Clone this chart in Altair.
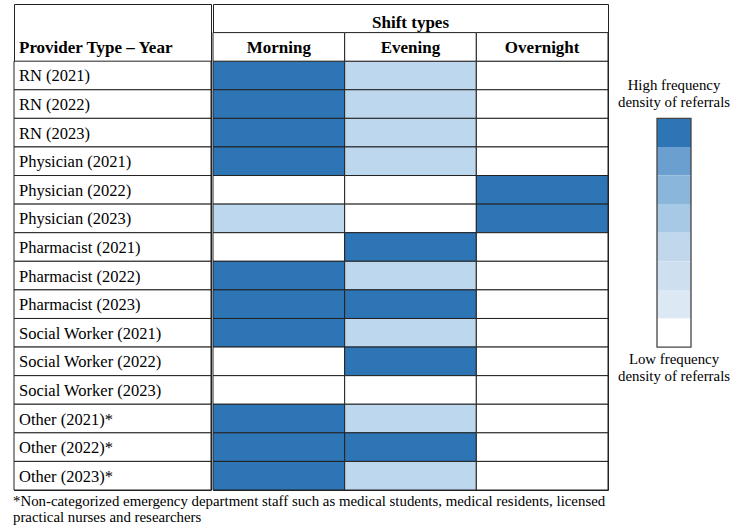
import altair as alt
import pandas as pd

# ---------------- data ----------------
providers = [
    "RN (2021)", "RN (2022)", "RN (2023)",
    "Physician (2021)", "Physician (2022)", "Physician (2023)",
    "Pharmacist (2021)", "Pharmacist (2022)", "Pharmacist (2023)",
    "Social Worker (2021)", "Social Worker (2022)", "Social Worker (2023)",
    "Other (2021)*", "Other (2022)*", "Other (2023)*",
]
shifts = ["Morning", "Evening", "Overnight"]
# 0 = none, 1 = low/medium, 2 = high referral density
morning = [2, 2, 2, 2, 0, 1, 0, 2, 2, 2, 0, 0, 2, 2, 2]
evening = [1, 1, 1, 1, 0, 0, 2, 1, 2, 1, 2, 0, 1, 2, 1]
overnight = [0, 0, 0, 0, 2, 2, 0, 0, 0, 0, 0, 0, 0, 0, 0]

cell_levels = [0, 1, 2]
cell_colors = ["#FFFFFF", "#BDD7EE", "#2E75B6"]

legend_levels = [0, 1, 2, 3, 4, 5, 6, 7]
legend_colors = ["#2E75B6", "#6B9FCF", "#8BB6DC", "#A8C9E6",
                 "#C0D7EC", "#CEE0F0", "#DCE8F4", "#FFFFFF"]

left_header = "Provider Type \u2013 Year"
group_header = "Shift types"
legend_high = ["High frequency", "density of referrals"]
legend_low = ["Low frequency", "density of referrals"]
footnote = [
    "*Non-categorized emergency department staff such as medical students, medical residents, licensed",
    "practical nurses and researchers",
]

# ---------------- layout ----------------
FONT = "Liberation Serif"
TABLE_H = 486
LEFT_W = 197
RIGHT_W = 395
LEG_W = 102
LINE = "#222222"
BOLD_SIZE = 17
REG_SIZE = 16.5
SMALL_SIZE = 14.85

y_domain = ["title_row", "header_row"] + providers
yscale = alt.Scale(domain=y_domain, paddingInner=0, paddingOuter=0)
xscale = alt.Scale(domain=shifts, paddingInner=0, paddingOuter=0)

# ---------------- left column ----------------
rows_df = pd.DataFrame({"row": providers})
lh_df = pd.DataFrame({"row": ["header_row"], "label": [left_header]})

left = alt.layer(
    alt.Chart(rows_df).mark_rect(fill="white", stroke=LINE, strokeWidth=1).encode(
        y=alt.Y("row:N", scale=yscale, axis=None)
    ),
    alt.Chart(rows_df).mark_text(font=FONT, fontSize=REG_SIZE, align="left", color="black", dy=1).encode(
        y=alt.Y("row:N", scale=yscale, axis=None), x=alt.value(5), text="row:N"
    ),
    alt.Chart(lh_df).mark_text(font=FONT, fontSize=BOLD_SIZE, fontWeight="bold", align="left", color="black", dy=1).encode(
        y=alt.Y("row:N", scale=yscale, axis=None), x=alt.value(5), text="label:N"
    ),
).properties(width=LEFT_W, height=TABLE_H, view=alt.ViewBackground(stroke=LINE, strokeWidth=1))

# ---------------- shift grid ----------------
recs = []
for i, p in enumerate(providers):
    for s, vals in zip(shifts, [morning, evening, overnight]):
        recs.append({"row": p, "shift": s, "level": vals[i]})
for s in shifts:
    recs.append({"row": "header_row", "shift": s, "level": 0})
cells_df = pd.DataFrame(recs)
hdr_df = pd.DataFrame({"row": ["header_row"] * 3, "shift": shifts})
grp_df = pd.DataFrame({"row": ["title_row"], "label": [group_header]})

right = alt.layer(
    alt.Chart(cells_df).mark_rect(stroke=LINE, strokeWidth=1).encode(
        y=alt.Y("row:N", scale=yscale, axis=None),
        x=alt.X("shift:N", scale=xscale, axis=None),
        color=alt.Color("level:O", scale=alt.Scale(domain=cell_levels, range=cell_colors), legend=None),
    ),
    alt.Chart(hdr_df).mark_text(font=FONT, fontSize=BOLD_SIZE, fontWeight="bold", color="black", dy=1).encode(
        y=alt.Y("row:N", scale=yscale, axis=None),
        x=alt.X("shift:N", scale=xscale, axis=None),
        text="shift:N",
    ),
    alt.Chart(grp_df).mark_text(font=FONT, fontSize=BOLD_SIZE, fontWeight="bold", color="black", dy=5).encode(
        y=alt.Y("row:N", scale=yscale, axis=None),
        x=alt.value(RIGHT_W / 2),
        text="label:N",
    ),
).properties(width=RIGHT_W, height=TABLE_H, view=alt.ViewBackground(stroke=LINE, strokeWidth=1))

# ---------------- legend (steps on a row-unit scale aligned with the table) ----------------
n_leg = len(legend_levels)
leg_df = pd.DataFrame({
    "lvl": legend_levels,
    "y0": legend_levels,
    "y1": [v + 1 for v in legend_levels],
    "col": ["swatch"] * n_leg,
})
leg_y = alt.Scale(domain=[-4, 13], reverse=True, nice=False, zero=False)
leg_x = alt.Scale(domain=["swatch"], paddingInner=0, paddingOuter=1)

hi_df = pd.DataFrame({"y": [0], "col": ["swatch"]})
lo_df = pd.DataFrame({"y": [n_leg], "col": ["swatch"]})
box_df = pd.DataFrame({"y0": [0], "y1": [n_leg], "col": ["swatch"]})

bands = alt.Chart(leg_df).mark_rect().encode(
    y=alt.Y("y0:Q", scale=leg_y, axis=None),
    y2="y1:Q",
    x=alt.X("col:N", scale=leg_x, axis=None),
    color=alt.Color("lvl:O", scale=alt.Scale(domain=legend_levels, range=legend_colors), legend=None),
)
hi_txt = alt.Chart(hi_df).mark_text(
    font=FONT, fontSize=SMALL_SIZE, color="black", baseline="top", lineHeight=17, dy=-40, text=legend_high
).encode(
    y=alt.Y("y:Q", scale=leg_y, axis=None),
    x=alt.X("col:N", scale=leg_x, axis=None),
)
lo_txt = alt.Chart(lo_df).mark_text(
    font=FONT, fontSize=SMALL_SIZE, color="black", baseline="top", lineHeight=17, dy=5, text=legend_low
).encode(
    y=alt.Y("y:Q", scale=leg_y, axis=None),
    x=alt.X("col:N", scale=leg_x, axis=None),
)
box = alt.Chart(box_df).mark_rect(fillOpacity=0, stroke="#444444", strokeWidth=1.3).encode(
    y=alt.Y("y0:Q", scale=leg_y, axis=None),
    y2="y1:Q",
    x=alt.X("col:N", scale=leg_x, axis=None),
)
legend = alt.layer(bands, hi_txt, lo_txt, box).properties(width=LEG_W, height=TABLE_H)

table = alt.hconcat(left, right, spacing=0)
chart = alt.hconcat(table, legend, spacing=8).resolve_scale(color="independent").properties(
    title=alt.TitleParams(
        text=footnote, orient="bottom", anchor="start", font=FONT, fontSize=SMALL_SIZE,
        fontWeight="normal", color="black", offset=3, lineHeight=16,
    ),
    padding={"left": 13, "top": 3, "right": 5, "bottom": 2},
).configure_view(strokeWidth=0)

chart.save("out.html", embed_options={"renderer": "svg", "actions": False})
